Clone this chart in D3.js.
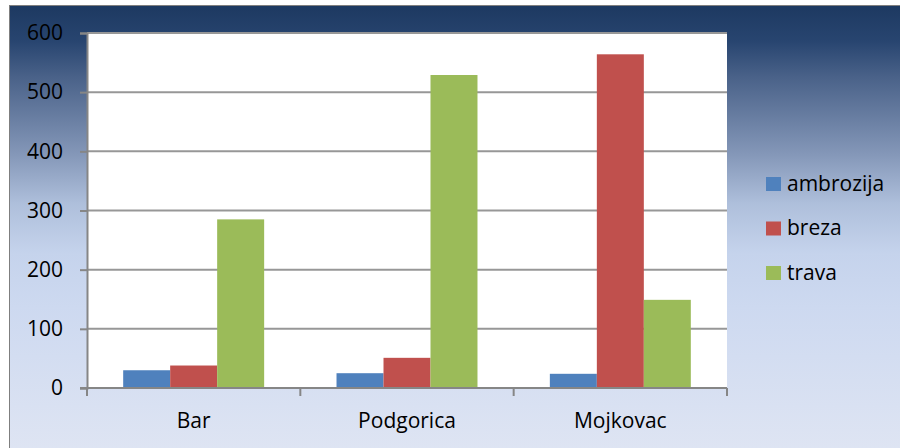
<!DOCTYPE html>
<html>
<head>
<meta charset="utf-8">
<script src="https://cdn.jsdelivr.net/npm/d3@7"></script>
<style>
  body { margin: 0; background: #fff; }
  text { font-family: "Open Sans", sans-serif; fill: #000; }
</style>
</head>
<body>
<svg id="chart" width="900" height="448"></svg>
<script>
// chart data
const categories = ["Bar", "Podgorica", "Mojkovac"];
const seriesNames = ["ambrozija", "breza", "trava"];
const ambrozija = [30, 25, 24];
const breza = [38, 51, 564];
const trava = [285, 529, 149];
const yTicks = [0, 100, 200, 300, 400, 500, 600];
const colors = ["#4f81bd", "#c0504d", "#9bbb59"];

const seriesValues = [ambrozija, breza, trava];

const svg = d3.select("#chart");

// background gradient of the chart frame
const defs = svg.append("defs");
const grad = defs.append("linearGradient")
  .attr("id", "bg")
  .attr("x1", 0).attr("y1", 0).attr("x2", 0).attr("y2", 1);
[[0, "#1d3961"], [0.08, "#284570"], [0.16, "#4a6289"], [0.33, "#8497b8"],
 [0.44, "#aebfdb"], [0.55, "#c5d3ec"], [0.67, "#cdd9f0"], [1, "#dfe5f3"]]
  .forEach(s => grad.append("stop").attr("offset", s[0]).attr("stop-color", s[1]));

svg.append("rect")
  .attr("x", 9.5).attr("y", 5.5)
  .attr("width", 900).attr("height", 450)
  .attr("fill", "url(#bg)")
  .attr("stroke", "#7f7f7f")
  .attr("stroke-width", 1);

// scales
const plot = { left: 87, right: 727, top: 33, bottom: 388 };

const y = d3.scaleLinear()
  .domain([0, 600])
  .range([plot.bottom, plot.top]);

const x0 = d3.scaleBand()
  .domain(categories)
  .range([plot.left, plot.right])
  .paddingInner(0)
  .paddingOuter(0);

const x1 = d3.scaleBand()
  .domain(seriesNames)
  .range([0, x0.bandwidth()])
  .paddingInner(0)
  .paddingOuter(0.77);

// plot area
svg.append("rect")
  .attr("x", plot.left).attr("y", plot.top)
  .attr("width", plot.right - plot.left)
  .attr("height", plot.bottom - plot.top)
  .attr("fill", "#fff");

// gridlines
svg.append("g")
  .selectAll("line")
  .data(yTicks.filter(d => d > 0))
  .join("line")
  .attr("x1", plot.left).attr("x2", plot.right)
  .attr("y1", d => y(d)).attr("y2", d => y(d))
  .attr("stroke", "#979797")
  .attr("stroke-width", 2);

// bars
const rows = categories.map((c, i) => ({
  cat: c,
  vals: seriesNames.map((s, j) => ({ key: s, value: seriesValues[j][i], color: colors[j] }))
}));

svg.append("g")
  .selectAll("g")
  .data(rows)
  .join("g")
  .attr("transform", d => `translate(${x0(d.cat)},0)`)
  .selectAll("rect")
  .data(d => d.vals)
  .join("rect")
  .attr("x", d => x1(d.key))
  .attr("width", x1.bandwidth())
  .attr("y", d => y(d.value))
  .attr("height", d => y(0) - y(d.value))
  .attr("fill", d => d.color);

// y axis
const yAxis = svg.append("g")
  .attr("transform", `translate(${plot.left},0)`)
  .call(d3.axisLeft(y).tickValues(yTicks).tickSize(7).tickPadding(17).tickFormat(d3.format("d")));
yAxis.select(".domain").attr("stroke", "#868686").attr("stroke-width", 2);
yAxis.selectAll(".tick line").attr("stroke", "#868686").attr("stroke-width", 2);
yAxis.selectAll(".tick text")
  .style("font-size", "21px")
  .style("font-family", "'Open Sans', sans-serif")
  .attr("fill", "#000");

// x axis line with ticks at category boundaries
const xAxis = svg.append("g");
xAxis.append("line")
  .attr("x1", plot.left - 7).attr("x2", plot.right)
  .attr("y1", y(0)).attr("y2", y(0))
  .attr("stroke", "#868686").attr("stroke-width", 2);

const bounds = categories.map(c => x0(c)).concat([x0.range()[1]]);
xAxis.selectAll("line.tick")
  .data(bounds)
  .join("line")
  .attr("class", "tick")
  .attr("x1", d => d).attr("x2", d => d)
  .attr("y1", y(0)).attr("y2", y(0) + 8)
  .attr("stroke", "#868686").attr("stroke-width", 2);

xAxis.selectAll("text")
  .data(categories)
  .join("text")
  .attr("x", d => x0(d) + x0.bandwidth() / 2)
  .attr("y", y(0) + 40)
  .attr("text-anchor", "middle")
  .style("font-size", "21px")
  .text(d => d);

// legend
const legend = svg.append("g")
  .attr("transform", "translate(766,177)");

const item = legend.selectAll("g")
  .data(seriesNames)
  .join("g")
  .attr("transform", (d, i) => `translate(0,${i * 44.5})`);

item.append("rect")
  .attr("width", 15).attr("height", 14)
  .attr("fill", (d, i) => colors[i]);

item.append("text")
  .attr("x", 21).attr("y", 13.5)
  .style("font-size", "21px")
  .text(d => d);
</script>
</body>
</html>
